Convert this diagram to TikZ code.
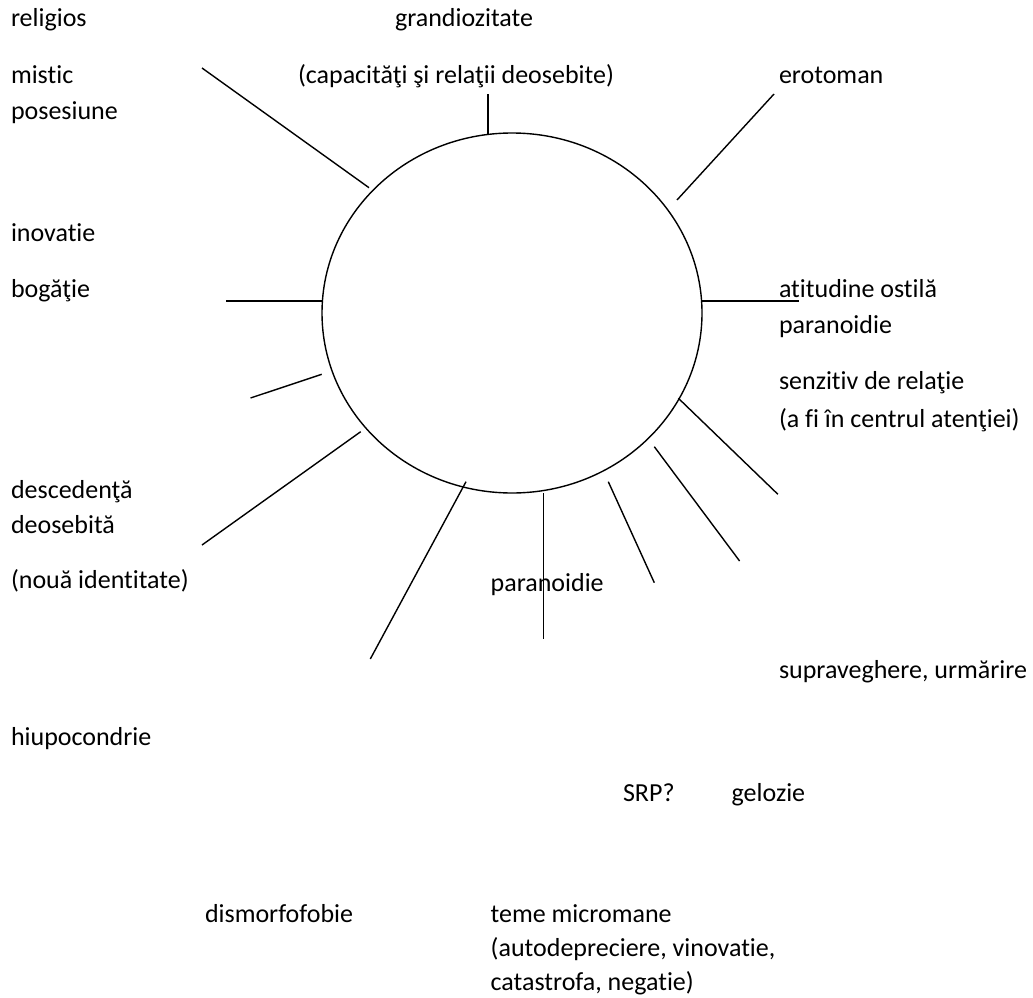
\documentclass[tikz,border=0pt]{standalone}
\usepackage{fontspec}
\setmainfont{Carlito}[Ligatures={NoCommon}]
\begin{document}
\begin{tikzpicture}[x=1pt,y=-1pt,
  lbl/.style={anchor=base west,inner sep=0pt,outer sep=0pt,font=\fontsize{26}{36}\selectfont},
  spoke/.style={line width=1.4pt,black}]
\useasboundingbox (0,0) rectangle (1033,998);
% circle
\draw[spoke] (512,313) ellipse [x radius=190, y radius=180];
% spoke end points
\coordinate (m1) at (202,68);    \coordinate (m2) at (369,187.7);
\coordinate (g1) at (488,94.3);  \coordinate (g2) at (488,134);
\coordinate (b1) at (226,301);   \coordinate (b2) at (322,301);
\coordinate (e1) at (774,94);    \coordinate (e2) at (677,200);
\coordinate (a1) at (702,301);   \coordinate (a2) at (799,301);
\coordinate (s1) at (250.5,398); \coordinate (s2) at (321.7,374.3);
\coordinate (d1) at (202,545);   \coordinate (d2) at (360.7,431.7);
\coordinate (h1) at (370.3,659); \coordinate (h2) at (466,481.7);
\coordinate (p1) at (543.7,493); \coordinate (p2) at (543.7,639);
\coordinate (r1) at (608.3,481.7); \coordinate (r2) at (654.3,582.7);
\coordinate (z1) at (654.3,446.7); \coordinate (z2) at (739.6,561);
\coordinate (u1) at (678.4,398.3); \coordinate (u2) at (777.9,494.3);
\draw[spoke] (m1) -- (m2);
\draw[spoke] (g1) -- (g2);
\draw[spoke] (b1) -- (b2);
\draw[spoke] (e1) -- (e2);
\draw[spoke] (a1) -- (a2);
\draw[spoke] (s1) -- (s2);
\draw[spoke] (d1) -- (d2);
\draw[spoke] (h1) -- (h2);
\draw[spoke] (p1) -- (p2);
\draw[spoke] (r1) -- (r2);
\draw[spoke] (z1) -- (z2);
\draw[spoke] (u1) -- (u2);
% labels
\node[lbl] (t1) at (11,27) {religios};
\node[lbl] (t2) at (395,27) {grandiozitate};
\node[lbl] (t3) at (11,83) {mistic};
\node[lbl] (t4) at (11,119) {posesiune};
\node[lbl] (t5) at (298,83) {(capacităţi şi relaţii deosebite)};
\node[lbl] (t6) at (779,83) {erotoman};
\node[lbl] (t7) at (11,241) {inovatie};
\node[lbl] (t8) at (11,297) {bogăţie};
\node[lbl] (t9) at (779,297) {atitudine ostilă};
\node[lbl] (t10) at (779,333) {paranoidie};
\node[lbl] (t11) at (779,389) {senzitiv de relaţie};
\node[lbl] (t12) at (779,427) {(a fi în centrul atenţiei)};
\node[lbl] (t13) at (11,498) {descedenţă};
\node[lbl] (t14) at (11,533) {deosebită};
\node[lbl] (t15) at (11,588) {(nouă identitate)};
\node[lbl] (t16) at (490.7,591) {paranoidie};
\node[lbl] (t17) at (779,678) {supraveghere, urmărire};
\node[lbl] (t18) at (11,745) {hiupocondrie};
\node[lbl] (t19) at (623,801.7) {SRP?};
\node[lbl] (t20) at (731.7,801.7) {gelozie};
\node[lbl] (t21) at (205,922.7) {dismorfofobie};
\node[lbl] (t22) at (490.7,922.7) {teme micromane};
\node[lbl] (t23) at (490.7,956) {(autodepreciere, vinovatie,};
\node[lbl] (t24) at (490.7,990) {catastrofa, negatie)};
\end{tikzpicture}
\end{document}
